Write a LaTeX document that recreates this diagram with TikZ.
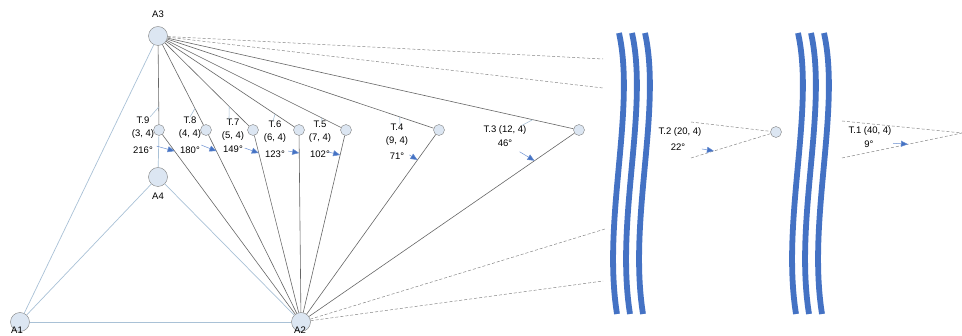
\documentclass[tikz,border=0pt]{standalone}
\usepackage{fontspec}
\setmainfont{Liberation Sans}
\usetikzlibrary{arrows.meta}
\usetikzlibrary{calc}
\definecolor{nodefill}{HTML}{DCE6F2}
\definecolor{nodeedge}{HTML}{808080}
\definecolor{raycol}{HTML}{666666}
\definecolor{framecol}{HTML}{A9C1D6}
\definecolor{breakblue}{HTML}{4472C4}
\tikzset{
    anchor node/.style={circle, draw=nodeedge, fill=nodefill, minimum size=19pt, inner sep=0pt},
    target node/.style={circle, draw=nodeedge, fill=nodefill, minimum size=11pt, inner sep=0pt},
    ray/.style={draw=raycol, line width=0.6pt},
    frame/.style={draw=framecol, line width=0.7pt},
    far ray/.style={draw=raycol!80, dash pattern=on 3pt off 2pt, line width=0.5pt},
    leader/.style={draw=framecol, line width=0.6pt},
    angarrow/.style={draw=breakblue!80, line width=0.5pt,
        -{Triangle[length=7pt,width=6pt,fill=breakblue]}},
    break line/.style={draw=breakblue, line width=5.8pt},
    lbl/.style={font=\fontsize{9.5}{13}\selectfont, inner sep=0pt, align=center}
}

\begin{document}
\begin{tikzpicture}[x=1pt,y=-1pt]
\useasboundingbox (0,0) rectangle (962,336);

% anchors
\node[anchor node] (A3) at (158,36) {};
\node[anchor node] (A4) at (158,177) {};
\node[anchor node] (A1) at (20,322) {};
\node[anchor node] (A2) at (301,322) {};
\node[lbl] (A3lbl) at (158,14) {A3};
\node[lbl] (A4lbl) at (158,196) {A4};
\node[lbl] (A1lbl) at (17,330) {A1};
\node[lbl] (A2lbl) at (300,330) {A2};

% targets
\node[target node] (t9) at (159,130) {};
\node[target node] (t8) at (206,130) {};
\node[target node] (t7) at (253,130) {};
\node[target node] (t6) at (299,130) {};
\node[target node] (t5) at (346,130) {};
\node[target node] (t4) at (439,130) {};
\node[target node] (t3) at (579,130) {};
\node[target node] (t2) at (776,132) {};
\coordinate (t1) at (962,133);

% triangle of anchors
\draw[frame] (A1) -- (A3);
\draw[frame] (A1) -- (A4);
\draw[frame] (A4) -- (A2);
\draw[frame] (A1) -- (A2);
\draw[frame] (t9) -- (A4);

% rays through the near targets
\foreach \n in {9,8,7,6,5,4,3}{
  \draw[ray] (A3) -- (t\n);
  \draw[ray] (t\n) -- (A2);
}

% rays to the far targets
\coordinate (a3far1) at (603,59);
\coordinate (a3far2) at (603,88);
\coordinate (a2far1) at (605,229);
\coordinate (a2far2) at (603,281);
\draw[far ray] (A3) -- (a3far1);
\draw[far ray] (A3) -- (a3far2);
\draw[far ray] (A2) -- (a2far1);
\draw[far ray] (A2) -- (a2far2);
\coordinate (t2up) at (691,122);
\coordinate (t2low) at (691,158);
\coordinate (t1up) at (842,121);
\coordinate (t1low) at (842,158);
\draw[far ray] (t2up) -- (t2);
\draw[far ray] (t2low) -- (t2);
\draw[far ray] (t1up) -- (t1);
\draw[far ray] (t1low) -- (t1);

% distance breaks
\foreach \g in {0,179}
  \foreach \dx in {0,13,26}
    \draw[break line] (619+\g+\dx,33) .. controls (636+\g+\dx,110) and (602+\g+\dx,220) .. (617+\g+\dx,314);

% target labels
\node[lbl] (l9) at (143,128) {T.9\\(3, 4)};
\node[lbl] (g9) at (143,150) {216°};
\node[lbl] (l8) at (190,128) {T.8\\(4, 4)};
\node[lbl] (g8) at (190,150) {180°};
\node[lbl] (l7) at (233,130) {T.7\\(5, 4)};
\node[lbl] (g7) at (233,149) {149°};
\node[lbl] (l6) at (275,132) {T.6\\(6, 4)};
\node[lbl] (g6) at (275,154) {123°};
\node[lbl] (l5) at (320,132) {T.5\\(7, 4)};
\node[lbl] (g5) at (320,154) {102°};
\node[lbl] (l4) at (397,135) {T.4\\(9, 4)};
\node[lbl] (g4) at (397,156) {71°};
\node[lbl] (l3) at (505,130) {T.3 (12, 4)};
\node[lbl] (g3) at (505,143) {46°};
\node[lbl] (l2) at (680,132) {T.2 (20, 4)};
\node[lbl] (g2) at (678,147) {22°};
\node[lbl] (l1) at (870,131) {T.1 (40, 4)};
\node[lbl] (g1) at (869,144) {9°};

% leaders from labels to rays
\foreach \n/\p/\s in {9/0.755/7, 8/0.77/0, 7/0.75/-4, 6/0.83/-2, 5/0.87/2, 4/0.86/3, 3/0.89/17}
  \draw[leader] ([xshift=\s pt]l\n.north) -- ($(A3)!\p!(t\n)$);

% angle arrows
\foreach \n/\p/\dx/\dy in {9/0.11/-18/-5, 8/0.11/-15/-6, 7/0.12/-14/-5, 6/0.12/-11/-2,
                          5/0.13/-12/-3, 4/0.156/-8/-5, 3/0.16/-15/-9}{
  \coordinate (h\n) at ($(t\n)!\p!(A2)$);
  \draw[angarrow] ($(h\n)+(\dx,\dy)$) -- (h\n);
}
\coordinate (h2) at ($(t2)!0.73!(t2low)$);
\draw[angarrow] ($(h2)+(-12,-2)$) -- (h2);
\coordinate (h1) at ($(t1)!0.45!(t1low)$);
\draw[angarrow] ($(h1)+(-15,-1)$) -- (h1);
\end{tikzpicture}
\end{document}
